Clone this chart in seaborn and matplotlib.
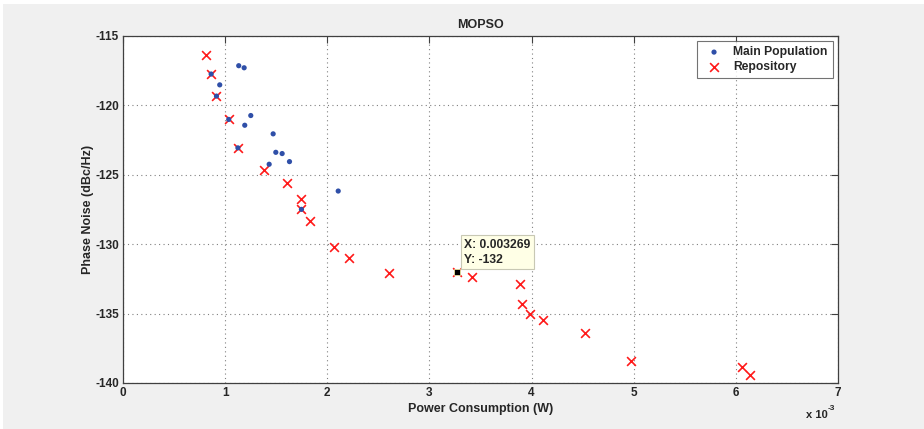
import numpy as np
import pandas as pd
import seaborn as sns
import matplotlib.pyplot as plt
from matplotlib.patches import Rectangle

# Repository (non-dominated) solutions, power in W, phase noise in dBc/Hz
repo_power = [0.000810, 0.000863, 0.000915, 0.001035, 0.001125, 0.001385, 0.001602,
              0.001744, 0.001747, 0.001835, 0.002064, 0.002214, 0.002609, 0.003269,
              0.003415, 0.003891, 0.003911, 0.003986, 0.004116, 0.004521, 0.004970,
              0.006060, 0.006138]
repo_noise = [-116.37, -117.74, -119.33, -121.01, -123.06, -124.68, -125.58,
              -126.77, -127.49, -128.36, -130.21, -130.96, -132.06, -132.0,
              -132.38, -132.86, -134.33, -135.01, -135.45, -136.39, -138.44,
              -138.83, -139.43]

# Main population particles
pop_power = [0.001133, 0.001186, 0.000947, 0.001251, 0.001192, 0.001470, 0.001496,
             0.001558, 0.001630, 0.001431, 0.002107, 0.000863, 0.000915, 0.001035,
             0.001125, 0.001747]
pop_noise = [-117.14, -117.29, -118.52, -120.73, -121.43, -122.05, -123.38,
             -123.47, -124.05, -124.24, -126.17, -117.74, -119.33, -121.01,
             -123.06, -127.49]

# data tip
tip_x = 0.003269
tip_y = -132

x_ticks = [0, 1, 2, 3, 4, 5, 6, 7]
y_ticks = [-140, -135, -130, -125, -120, -115]

df_pop = pd.DataFrame({'power': np.array(pop_power) * 1e3, 'noise': pop_noise})
df_repo = pd.DataFrame({'power': np.array(repo_power) * 1e3, 'noise': repo_noise})

sns.set_style("white")
plt.rcParams['font.family'] = ['Liberation Sans', 'DejaVu Sans']
plt.rcParams['font.weight'] = 'bold'

fig = plt.figure(figsize=(9.24, 4.29), dpi=100)
fig.patch.set_facecolor('white')
fig.patches.append(Rectangle((3 / 924, 0), 1, (429 - 4) / 429, transform=fig.transFigure,
                             facecolor='#f0f0f0', edgecolor='none', zorder=-10))

ax = fig.add_axes([123 / 924, 1 - 383 / 429, 715 / 924, 347 / 429])
ax.set_facecolor('white')

sns.scatterplot(data=df_pop, x='power', y='noise', ax=ax, color='#2f4fa8', s=14,
                edgecolor='none', label='Main Population', zorder=3)
sns.scatterplot(data=df_repo, x='power', y='noise', ax=ax, color='#ff1a1a', marker='x',
                s=40, linewidth=1.2, label='Repository', zorder=2)

# data cursor
ax.plot(tip_x * 1e3, tip_y, marker='s', color='black', markersize=4.5,
        markeredgecolor='#e8e0a0', markeredgewidth=0.6, zorder=5)
ax.text(3.34, -131.55, 'X: 0.003269\nY: -132', fontsize=8.7, fontweight='bold',
        va='bottom', ha='left', linespacing=1.3, zorder=6,
        bbox=dict(boxstyle='square,pad=0.3', facecolor='#ffffe6', edgecolor='#c8c8b4', lw=0.8))

ax.set_xlim(0, 7)
ax.set_ylim(-140, -115)
ax.set_xticks(x_ticks)
ax.set_yticks(y_ticks)
ax.set_xticklabels([str(t) for t in x_ticks], fontsize=8.5, fontweight='bold')
ax.set_yticklabels([str(t) for t in y_ticks], fontsize=8.5, fontweight='bold')
ax.tick_params(direction='in', length=5, width=0.8, color='#404040',
               top=True, right=True, pad=3)
ax.grid(True, linestyle=(0, (1, 3)), color='#808080', linewidth=0.8)
for sp in ax.spines.values():
    sp.set_color('#404040')
    sp.set_linewidth(0.9)

ax.set_title('MOPSO', fontsize=9, fontweight='bold', pad=6)
ax.set_xlabel('Power Consumption (W)', fontsize=9, fontweight='bold', labelpad=3)
ax.set_ylabel('Phase Noise (dBc/Hz)', fontsize=9, fontweight='bold', labelpad=1)

fig.text(806 / 924, 1 - 418 / 429, 'x 10', fontsize=8, fontweight='bold', ha='left', va='baseline')
fig.text(828 / 924, 1 - 410 / 429, '-3', fontsize=6, fontweight='bold', ha='left', va='baseline')

leg = ax.legend(loc='upper right', fontsize=8.7, frameon=True, fancybox=False,
                borderaxespad=0.45, handletextpad=0.6, labelspacing=0.2,
                borderpad=0.4, handlelength=2.0)
leg.get_frame().set_edgecolor('#505050')
leg.get_frame().set_linewidth(0.8)
for t in leg.get_texts():
    t.set_fontweight('bold')

fig.savefig('out.png', dpi=100, facecolor=fig.get_facecolor())
